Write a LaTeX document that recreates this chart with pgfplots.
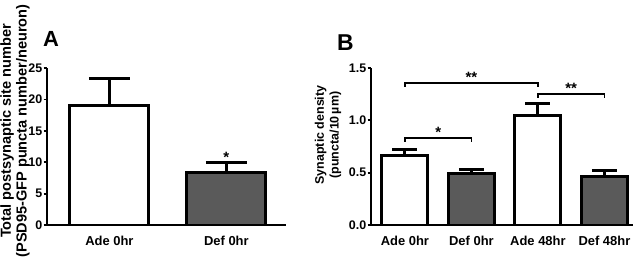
\documentclass[border=0pt]{standalone}
\usepackage{fontspec}
\setmainfont{Liberation Sans}
\usepackage{pgfplots}
\pgfplotsset{compat=1.18}
\definecolor{bargray}{RGB}{90,90,90}
\tikzset{sigstar/.style={anchor=base, font=\bfseries\fontsize{15}{15}\selectfont, inner sep=0pt}}
\pgfplotsset{
  myaxis/.style={
    scale only axis, anchor=south west,
    axis x line=bottom, axis y line=left,
    axis line style={line width=1.8bp,-,black},
    ybar, bar shift=0pt,
    ymin=0,
    tick align=outside, major tick length=3.5bp,
    ytick style={line width=1.8bp,black},
    xtick style={draw=none},
    /pgf/number format/assume math mode=true,
    yticklabel style={font=\bfseries\fontsize{12.5}{12.5}\selectfont, inner sep=1bp},
    xticklabel style={font=\bfseries\fontsize{13}{13}\selectfont, anchor=base, yshift=-16.5bp},
  },
  whitebar/.style={fill=white, draw=black, line width=3bp,
    error bars/.cd, y dir=plus, y explicit, error mark=|,
    error bar style={line width=3bp, black},
    error mark options={line width=3bp, black, mark size=#1}},
  graybar/.style={fill=bargray, draw=black, line width=3bp,
    error bars/.cd, y dir=plus, y explicit, error mark=|,
    error bar style={line width=3bp, black},
    error mark options={line width=3bp, black, mark size=#1}},
}
\begin{document}
\begin{tikzpicture}[x=1bp,y=1bp]
% Panel A
\begin{axis}[myaxis, at={(47bp,35bp)}, width=239bp, height=157bp,
  xmin=-0.534, xmax=1.51, ymax=25, ytick={0,5,10,15,20,25},
  bar width=79bp, xtick={0,1}, xticklabels={Ade 0hr, Def 0hr}]
\addplot[whitebar=20.5bp] coordinates {(0,19.1) +- (0,4.3)};
\addplot[graybar=20.5bp] coordinates {(1,8.35) +- (0,1.55)};
\node[sigstar] at (axis cs:1,10.0) {*};
\end{axis}
% Panel B
\begin{axis}[myaxis, at={(371bp,35bp)}, width=262bp, height=157bp,
  xmin=-0.51, xmax=3.43, ymax=1.5, ytick={0,0.5,1,1.5},
  yticklabel style={/pgf/number format/.cd, fixed, fixed zerofill, precision=1},
  bar width=46bp, xtick={0,1,2,3}, xticklabels={Ade 0hr, Def 0hr, Ade 48hr, Def 48hr}]
\addplot[whitebar=12.5bp] coordinates {(0,0.665) +- (0,0.055) (2,1.045) +- (0,0.12)};
\addplot[graybar=12.5bp] coordinates {(1,0.49) +- (0,0.045) (3,0.465) +- (0,0.052)};
\draw[line width=1.5bp] (axis cs:0,0.795) -- (axis cs:0,0.83) -- (axis cs:1,0.83) -- (axis cs:1,0.795);
\draw[line width=1.5bp] (axis cs:0,1.32) -- (axis cs:0,1.355) -- (axis cs:2,1.355) -- (axis cs:2,1.32);
\draw[line width=1.5bp] (axis cs:2,1.215) -- (axis cs:2,1.25) -- (axis cs:3,1.25) -- (axis cs:3,1.215);
\node[sigstar] at (axis cs:0.5,0.835) {*};
\node[sigstar] at (axis cs:1,1.36) {**};
\node[sigstar] at (axis cs:2.5,1.255) {**};
\end{axis}
% labels
\node[rotate=90, align=center, font=\bfseries\fontsize{14.6}{16}\selectfont] at (15,129) {Total postsynaptic site number\\(PSD95-GFP puncta number/neuron)};
\node[rotate=90, align=center, font=\bfseries\fontsize{12.5}{15}\selectfont] at (328,125) {Synaptic density\\(puncta/10\,µm)};
\node[font=\bfseries\fontsize{22}{22}\selectfont] at (51,221) {A};
\node[font=\bfseries\fontsize{23}{23}\selectfont] at (345.5,217) {B};
\pgfresetboundingbox
\useasboundingbox (0,0) rectangle (640,260);
\end{tikzpicture}
\end{document}
